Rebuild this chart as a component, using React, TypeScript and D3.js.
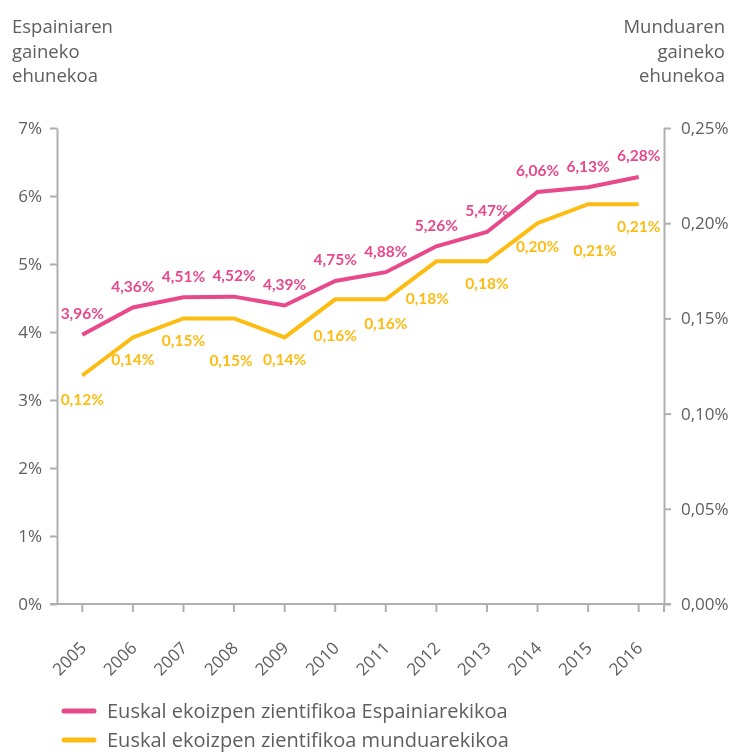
import React, { useEffect, useRef } from 'react';
import * as d3 from 'd3';

const years = ['2005', '2006', '2007', '2008', '2009', '2010', '2011', '2012', '2013', '2014', '2015', '2016'];
const spainShare = [3.96, 4.36, 4.51, 4.52, 4.39, 4.75, 4.88, 5.26, 5.47, 6.06, 6.13, 6.28];
const worldShare = [0.12, 0.14, 0.15, 0.15, 0.14, 0.16, 0.16, 0.18, 0.18, 0.20, 0.21, 0.21];
const leftTicks = [0, 1, 2, 3, 4, 5, 6, 7];
const rightTicks = [0, 0.05, 0.10, 0.15, 0.20, 0.25];
const legendLabels = ['Euskal ekoizpen zientifikoa Espainiarekikoa', 'Euskal ekoizpen zientifikoa munduarekikoa'];

// manual nudges for the yellow labels so they don't collide
const worldLabelDy = [24, 22, 22, 42, 22, 36, 24, 37, 22, 23, 46, 22];
const worldLabelDx = [0, 0, 0, -3, 0, 0, 0, -9, 0, 0, 7, 0];

const PINK = '#e8498b';
const YELLOW = '#fcbc12';
const GREY = '#5e5e5e';
const AXIS = '#b0b0b0';
const FONT = '"Open Sans", sans-serif';
const LABEL_FONT = 'Lato, sans-serif';

const fmt = (v: number, d: number) => v.toFixed(d).replace('.', ',') + '%';

const createChart = (container: SVGSVGElement) => {
    const svg = d3.select(container);
    svg.selectAll('*').remove();
    svg.attr('width', 736).attr('height', 752).style('font-family', FONT);

    const left = 57, right = 664, top = 128, bottom = 604;

    const x = d3.scaleBand<string>().domain(years).range([left, right]);
    const xc = (d: string) => (x(d) as number) + x.bandwidth() / 2;
    const yL = d3.scaleLinear().domain([0, 7]).range([bottom, top]);
    const yR = d3.scaleLinear().domain([0, 0.25]).range([bottom, top]);

    // axis titles
    const titleL = svg.append('text').attr('x', 12).attr('y', 33)
        .style('font-size', '18.5px').style('fill', GREY);
    ['Espainiaren', 'gaineko', 'ehunekoa'].forEach((t, i) => {
        titleL.append('tspan').attr('x', 12).attr('dy', i === 0 ? 0 : 24.5).text(t);
    });
    const titleR = svg.append('text').attr('x', 725).attr('y', 33)
        .attr('text-anchor', 'end').style('font-size', '18.5px').style('fill', GREY);
    ['Munduaren', 'gaineko', 'ehunekoa'].forEach((t, i) => {
        titleR.append('tspan').attr('x', 725).attr('dy', i === 0 ? 0 : 24.5).text(t);
    });

    const styleAxis = (g: d3.Selection<SVGGElement, unknown, null, undefined>) => {
        g.select('.domain').attr('stroke', AXIS).attr('stroke-width', 2);
        g.selectAll('.tick line').attr('stroke', AXIS).attr('stroke-width', 2);
        g.selectAll('.tick text').style('fill', GREY).style('font-size', '17px').style('font-family', FONT);
    };

    const gL = svg.append('g').attr('transform', `translate(${left},0)`)
        .call(d3.axisLeft(yL).tickValues(leftTicks).tickSize(7).tickSizeOuter(0).tickPadding(8)
            .tickFormat(d => `${d}%`));
    styleAxis(gL);

    const gR = svg.append('g').attr('transform', `translate(${right},0)`)
        .call(d3.axisRight(yR).tickValues(rightTicks).tickSize(7).tickSizeOuter(0).tickPadding(10)
            .tickFormat(d => fmt(+d, 2)));
    styleAxis(gR);

    const gX = svg.append('g').attr('transform', `translate(0,${bottom})`)
        .call(d3.axisBottom(x).tickSize(8).tickSizeOuter(0));
    styleAxis(gX);
    gX.select('.domain').attr('d', `M${left - 7},0H${right + 7}`);
    gX.append('line').attr('x1', right).attr('x2', right).attr('y1', 0).attr('y2', 8)
        .attr('stroke', AXIS).attr('stroke-width', 2);
    gX.selectAll('.tick text')
        .attr('text-anchor', 'end')
        .attr('x', 0).attr('y', 0).attr('dy', 0)
        .attr('transform', 'translate(5,45) rotate(-45)');

    const lineL = d3.line<number>().x((_, i) => xc(years[i])).y(d => yL(d));
    const lineR = d3.line<number>().x((_, i) => xc(years[i])).y(d => yR(d));

    svg.append('path').datum(worldShare).attr('d', lineR)
        .attr('fill', 'none').attr('stroke', YELLOW).attr('stroke-width', 4);
    svg.append('path').datum(spainShare).attr('d', lineL)
        .attr('fill', 'none').attr('stroke', PINK).attr('stroke-width', 4);

    svg.append('g').selectAll('text').data(spainShare).enter().append('text')
        .attr('x', (_, i) => xc(years[i]))
        .attr('y', d => yL(d) - 21)
        .attr('dy', '0.35em')
        .attr('text-anchor', 'middle')
        .style('font-family', LABEL_FONT)
        .style('font-size', '15.5px').style('font-weight', 'bold').style('fill', PINK)
        .text(d => fmt(d, 2));

    svg.append('g').selectAll('text').data(worldShare).enter().append('text')
        .attr('x', (_, i) => xc(years[i]) + worldLabelDx[i])
        .attr('y', (d, i) => yR(d) + worldLabelDy[i])
        .attr('dy', '0.35em')
        .attr('text-anchor', 'middle')
        .style('font-family', LABEL_FONT)
        .style('font-size', '15.5px').style('font-weight', 'bold').style('fill', YELLOW)
        .text(d => fmt(d, 2));

    // legend
    const legend = svg.append('g');
    [PINK, YELLOW].forEach((c, i) => {
        const y = 711 + i * 29;
        legend.append('line').attr('x1', 64).attr('x2', 94).attr('y1', y).attr('y2', y)
            .attr('stroke', c).attr('stroke-width', 5).attr('stroke-linecap', 'round');
        legend.append('text').attr('x', 107).attr('y', y + 7)
            .style('font-size', '20px').style('fill', GREY).text(legendLabels[i]);
    });
};

const App = () => {
    const ref = useRef<SVGSVGElement>(null);

    useEffect(() => {
        if (ref.current) {
            createChart(ref.current);
        }
    }, []);

    return (
        <div style={{ position: 'fixed', left: 0, top: 0, width: 736, height: 752, overflow: 'hidden' }}>
            <svg ref={ref} style={{ display: 'block' }} />
        </div>
    );
};

export default App;
